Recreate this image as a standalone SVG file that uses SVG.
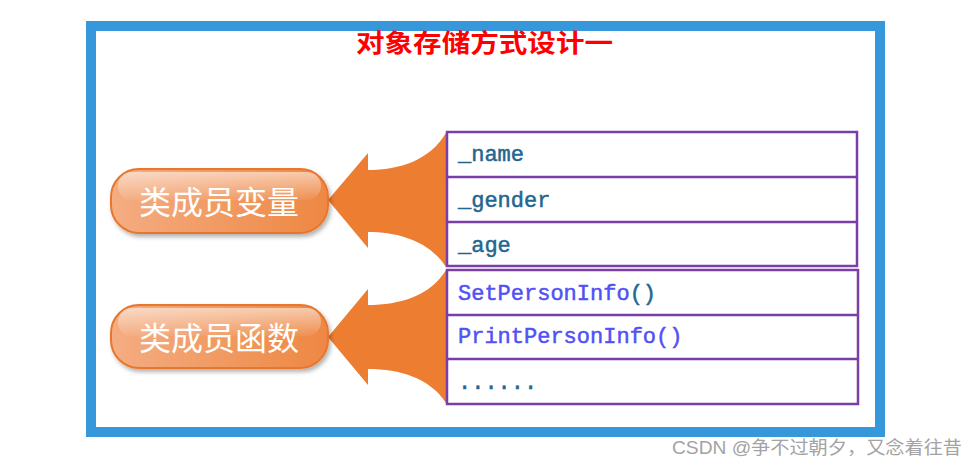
<svg xmlns="http://www.w3.org/2000/svg" width="980" height="466" viewBox="0 0 980 466">
<defs>
<linearGradient id="pillFill" x1="0" y1="0" x2="1" y2="0">
<stop offset="0" stop-color="#f4ad82"/>
<stop offset="1" stop-color="#ee8743"/>
</linearGradient>
<linearGradient id="gloss" x1="0" y1="0" x2="0" y2="1">
<stop offset="0" stop-color="#ffffff" stop-opacity="0.55"/>
<stop offset="1" stop-color="#ffffff" stop-opacity="0.05"/>
</linearGradient>
<filter id="shadow" x="-10%" y="-20%" width="125%" height="150%">
<feDropShadow dx="2" dy="3" stdDeviation="2" flood-color="#000" flood-opacity="0.3"/>
</filter>
</defs>
<style>
.frame{fill:#ffffff;stroke:#3797db;stroke-width:10}
.title{font-family:"Noto Sans CJK SC",sans-serif;font-weight:bold;font-size:25px;fill:#ff0000}
.arrow{fill:#ed7d31;stroke:none}
.pill{fill:url(#pillFill);stroke:#e8772e;stroke-width:2}
.glossy{fill:url(#gloss)}
.pilltext{font-family:"Noto Sans CJK SC",sans-serif;font-size:32px;fill:#ffffff;text-anchor:middle}
.cell{fill:#ffffff;stroke:#7a3fa6;stroke-width:2.5}
.div{stroke:#7a3fa6;stroke-width:2.5}
.mono{font-family:"Liberation Mono",monospace;font-size:22px;fill:#23668f;stroke:#23668f;stroke-width:0.5}
.fn{fill:#5151f5;stroke:#5151f5}
.wm{font-family:"Liberation Sans","Noto Sans CJK SC",sans-serif;font-size:18px;fill:#a3a3a3}
</style>
<rect class="frame" x="91" y="26" width="789" height="406"/>
<text class="title" x="484.5" y="52" text-anchor="middle" textLength="257" lengthAdjust="spacingAndGlyphs">对象存储方式设计一</text>
<g id="connectors">
<path class="arrow" d="M328,200 L368,153 L368,170 C400,170 430,160 446,133 L446,267 C430,242 400,232 368,232 L368,248 Z"/>
<path class="arrow" d="M328,337 L368,289 L368,305 C400,305 430,296 446,270 L446,403 C430,378 400,369 368,369 L368,385 Z"/>
</g>
<g id="member-vars">
<rect class="pill" x="111" y="169" width="217" height="64" rx="28" filter="url(#shadow)"/>
<rect class="glossy" x="118" y="172" width="203" height="28" rx="14"/>
<text class="pilltext" x="219" y="214">类成员变量</text>
</g>
<g id="member-funcs">
<rect class="pill" x="111" y="305" width="217" height="63" rx="28" filter="url(#shadow)"/>
<rect class="glossy" x="118" y="308" width="203" height="28" rx="14"/>
<text class="pilltext" x="219" y="350">类成员函数</text>
</g>
<g id="vars-table">
<rect class="cell" x="447" y="132" width="410" height="134"/>
<line class="div" x1="447" y1="177" x2="857" y2="177"/>
<line class="div" x1="447" y1="222" x2="857" y2="222"/>
<text class="mono" x="458" y="161">_name</text>
<text class="mono" x="458" y="207">_gender</text>
<text class="mono" x="458" y="252">_age</text>
</g>
<g id="funcs-table">
<rect class="cell" x="447" y="270" width="411" height="134"/>
<line class="div" x1="447" y1="315" x2="858" y2="315"/>
<line class="div" x1="447" y1="359" x2="858" y2="359"/>
<text class="mono" x="458" y="300"><tspan class="fn">SetPersonInfo</tspan>()</text>
<text class="mono" x="458" y="343"><tspan class="fn">PrintPersonInfo</tspan><tspan class="fn">()</tspan></text>
<text class="mono" x="458" y="389">......</text>
</g>
<text class="wm" x="672" y="454" textLength="290" lengthAdjust="spacingAndGlyphs">CSDN @争不过朝夕，又念着往昔</text>
</svg>
